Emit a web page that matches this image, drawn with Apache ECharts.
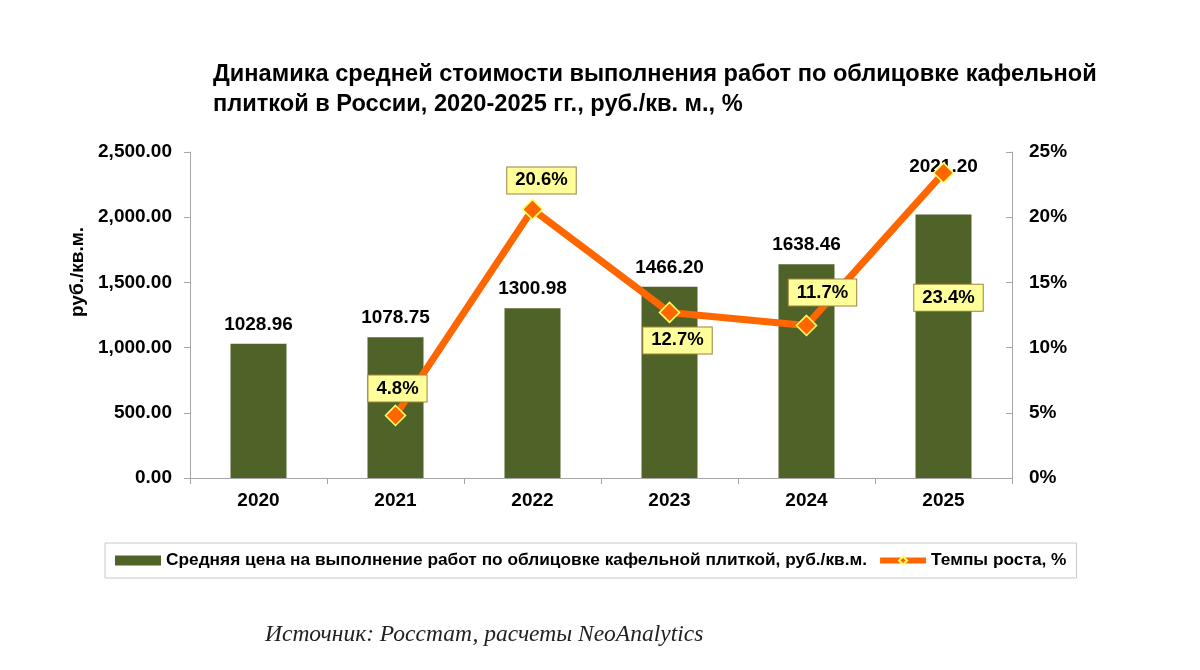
<!DOCTYPE html>
<html>
<head>
<meta charset="utf-8">
<script src="https://cdn.jsdelivr.net/npm/echarts@6/dist/echarts.min.js"></script>
<style>
  html, body { margin: 0; padding: 0; background: #fff; }
</style>
</head>
<body>
<div id="chart" style="width:1200px;height:670px"></div>
<script>
var years = ["2020", "2021", "2022", "2023", "2024", "2025"];
var prices = [1028.96, 1078.75, 1300.98, 1466.2, 1638.46, 2021.2];
var growth = [null, 4.8, 20.6, 12.7, 11.7, 23.4];
var leftTicks = [0, 500, 1000, 1500, 2000, 2500];
var rightTicks = [0, 5, 10, 15, 20, 25];

// смещения подписей, как на исходной картинке
var growthLabelOffsets = [null, [2, -27], [9, -29], [8, 28], [16, -33], [5, 125]];
var priceLabelOffsets = [[0, 0], [0, 0], [0, 0], [0, 0], [0, 0], [0, -28]];

var barColor = "#4f6228";
var lineColor = "#ff6600";
var font = "'Liberation Sans', Arial, sans-serif";

var chart = echarts.init(document.getElementById("chart"));

var barData = prices.map(function (v, i) {
  return { value: v, label: { offset: priceLabelOffsets[i] } };
});
var lineData = growth.map(function (v, i) {
  if (v === null) return "-";
  return { value: v, label: { offset: growthLabelOffsets[i] } };
});

chart.setOption({
  backgroundColor: "#fff",
  animation: false,
  title: {
    text: "Динамика средней стоимости выполнения работ по облицовке кафельной\nплиткой в России, 2020-2025 гг., руб./кв. м., %",
    left: 208,
    top: 54,
    textStyle: {
      fontFamily: font,
      fontSize: 23.6,
      fontWeight: "bold",
      color: "#000",
      lineHeight: 30
    }
  },
  grid: {
    left: 190,
    right: 188,
    top: 152,
    height: 326
  },
  legend: {
    left: 105,
    top: 543,
    padding: [9, 10, 9, 10],
    borderColor: "#c8c8c8",
    borderWidth: 1,
    itemWidth: 46,
    itemHeight: 10,
    itemGap: 10,
    textStyle: {
      fontFamily: "'Liberation Sans Narrow', 'Liberation Sans', Arial, sans-serif",
      fontSize: 17.3,
      fontWeight: "bold",
      color: "#000"
    },
    data: [
      { name: "Средняя цена на выполнение работ по облицовке кафельной плиткой, руб./кв.м.", icon: "rect" },
      { name: "Темпы роста, %", lineStyle: { width: 6 } }
    ]
  },
  xAxis: {
    type: "category",
    data: years,
    axisLine: { lineStyle: { color: "#a6a6a6" } },
    axisTick: { show: true, length: 6, lineStyle: { color: "#a6a6a6" } },
    axisLabel: {
      margin: 13,
      fontFamily: font,
      fontSize: 19,
      fontWeight: "bold",
      color: "#000"
    }
  },
  yAxis: [
    {
      type: "value",
      min: leftTicks[0],
      max: leftTicks[leftTicks.length - 1],
      interval: 500,
      axisLine: { show: true, lineStyle: { color: "#a6a6a6" } },
      axisTick: { show: true, length: 6, lineStyle: { color: "#a6a6a6" } },
      splitLine: { show: false },
      axisLabel: {
        margin: 18,
        fontFamily: font,
        fontSize: 19,
        fontWeight: "bold",
        color: "#000",
        formatter: function (v) {
          return v.toLocaleString("en-US", { minimumFractionDigits: 2, maximumFractionDigits: 2 });
        }
      }
    },
    {
      type: "value",
      min: rightTicks[0],
      max: rightTicks[rightTicks.length - 1],
      interval: 5,
      position: "right",
      axisLine: { show: true, lineStyle: { color: "#a6a6a6" } },
      axisTick: { show: true, inside: true, length: 6, lineStyle: { color: "#a6a6a6" } },
      splitLine: { show: false },
      axisLabel: {
        margin: 17,
        fontFamily: font,
        fontSize: 19,
        fontWeight: "bold",
        color: "#000",
        formatter: "{value}%"
      }
    }
  ],
  series: [
    {
      name: "Средняя цена на выполнение работ по облицовке кафельной плиткой, руб./кв.м.",
      type: "bar",
      yAxisIndex: 0,
      barWidth: 56,
      itemStyle: { color: barColor },
      label: {
        show: true,
        position: "top",
        distance: 10,
        fontFamily: font,
        fontSize: 19,
        fontWeight: "bold",
        color: "#000",
        formatter: function (p) { return p.value.toFixed(2); }
      },
      data: barData,
      z: 1
    },
    {
      name: "Темпы роста, %",
      type: "line",
      yAxisIndex: 1,
      symbol: "diamond",
      symbolSize: 20,
      connectNulls: false,
      lineStyle: { color: lineColor, width: 7 },
      itemStyle: { color: lineColor, borderColor: "#ffff66", borderWidth: 1.5 },
      label: {
        show: true,
        position: "inside",
        fontFamily: font,
        fontSize: 18.5,
        fontWeight: "bold",
        color: "#000",
        backgroundColor: "#ffff99",
        borderColor: "#a08040",
        borderWidth: 1,
        padding: [4, 8, 3, 8],
        formatter: function (p) { return p.value.toFixed(1) + "%"; }
      },
      data: lineData,
      z: 3
    }
  ],
  graphic: [
    {
      type: "text",
      x: 78,
      y: 272,
      rotation: Math.PI / 2,
      style: {
        text: "руб./кв.м.",
        fontFamily: font,
        fontSize: 19,
        fontWeight: "bold",
        fill: "#000",
        align: "center",
        verticalAlign: "middle"
      }
    },
    {
      type: "text",
      left: 265,
      top: 623,
      style: {
        text: "Источник: Росстат, расчеты NeoAnalytics",
        fontFamily: "'Liberation Serif', 'Times New Roman', serif",
        fontStyle: "italic",
        fontSize: 23.5,
        fill: "#222"
      }
    }
  ]
});
</script>
</body>
</html>
